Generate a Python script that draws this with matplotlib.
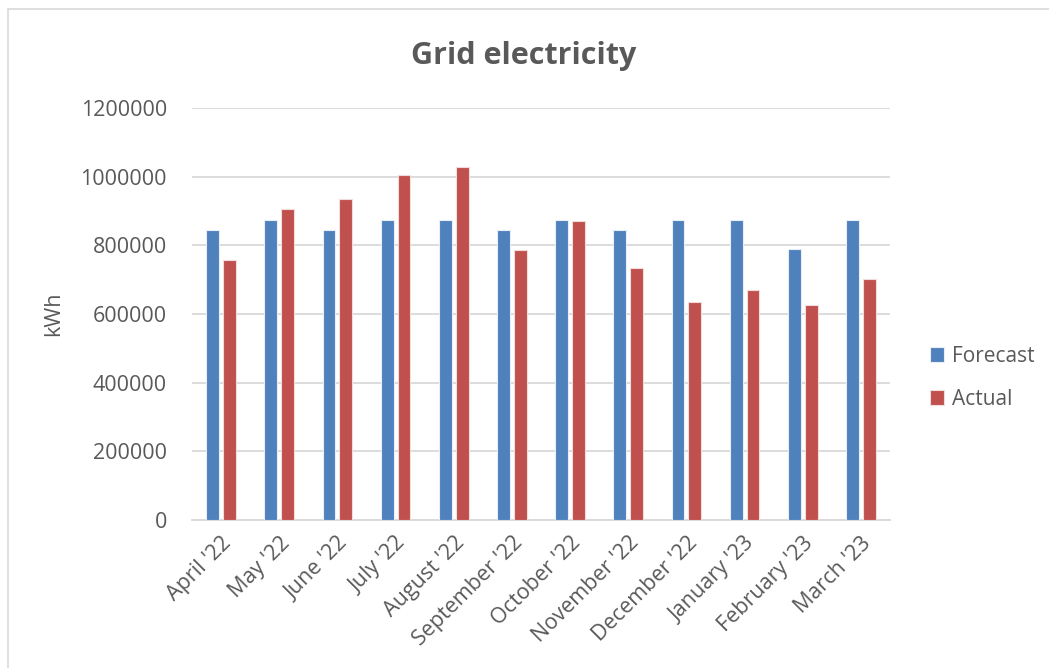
import matplotlib.pyplot as plt
import numpy as np
from matplotlib.patches import Rectangle

plt.rcParams['font.family'] = ['Open Sans', 'DejaVu Sans']

months = ["April '22", "May '22", "June '22", "July '22", "August '22", "September '22",
          "October '22", "November '22", "December '22", "January '23", "February '23", "March '23"]
forecast = [845000, 873000, 845000, 873000, 873000, 845000,
            873000, 845000, 873000, 873000, 788000, 873000]
actual = [756000, 907000, 936000, 1004000, 1027000, 787000,
          870000, 733000, 634000, 669000, 625000, 701000]
y_ticks = [0, 200000, 400000, 600000, 800000, 1000000, 1200000]

text_col = '#595959'
grid_col = '#d9d9d9'

fig = plt.figure(figsize=(10.49, 6.68), dpi=100)
ax = fig.add_axes([192 / 1049, 1 - 520 / 668, (890 - 192) / 1049, (520 - 108) / 668])

# chart area border (open at the bottom / right edge)
fig.patches.append(Rectangle((8 / 1049, -0.1), 1.1, 1.1 - 9 / 668, transform=fig.transFigure,
                             fill=False, edgecolor=grid_col, linewidth=1.2))

x = np.arange(len(months))
w = 0.22
ax.bar(x - 0.145, forecast, w, color='#4f81bd', edgecolor='#e8eef6', linewidth=0.8,
       label='Forecast', zorder=3)
ax.bar(x + 0.145, actual, w, color='#c0504d', edgecolor='#f2dcdb', linewidth=0.8,
       label='Actual', zorder=3)

ax.set_xlim(-0.5, len(months) - 0.5)
ax.set_ylim(0, 1200000)
ax.set_yticks(y_ticks)
ax.set_yticklabels([str(v) for v in y_ticks])
ax.yaxis.grid(True, color=grid_col, linewidth=1.3, zorder=0)
ax.set_axisbelow(True)
for s in ['top', 'right', 'left']:
    ax.spines[s].set_visible(False)
ax.spines['bottom'].set_color(grid_col)
ax.spines['bottom'].set_linewidth(1.3)
ax.tick_params(axis='both', length=0, labelsize=15.5, labelcolor=text_col)
ax.tick_params(axis='y', pad=18)
ax.set_xticks(x)
ax.set_xticklabels(months, rotation=45, ha='right', rotation_mode='anchor')
ax.tick_params(axis='x', pad=9)

ax.set_ylabel('kWh', fontsize=15.5, color=text_col, labelpad=12)
fig.text(524 / 1049, 1 - 56 / 668, 'Grid electricity', ha='center', va='center',
         fontsize=22, fontweight='bold', color=text_col)

ax.legend(loc='center left', bbox_to_anchor=(1.03, 0.345), frameon=False, fontsize=15,
          labelcolor=text_col, handlelength=0.7, handleheight=0.7, labelspacing=1.05,
          handletextpad=0.35)

fig.savefig('out.png', dpi=100)
